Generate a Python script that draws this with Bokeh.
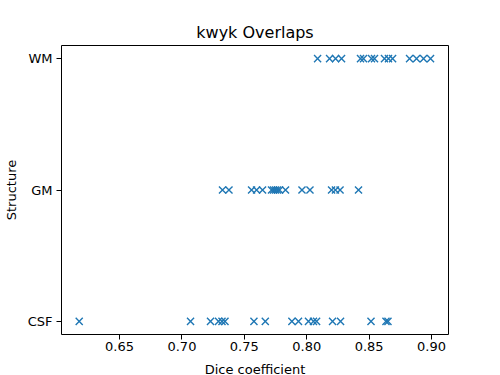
from bokeh.plotting import figure
from bokeh.models import Range1d, FixedTicker, ColumnDataSource
from bokeh.embed import file_html
from bokeh.resources import INLINE

structures = ["CSF", "GM", "WM"]
csf = [0.6177, 0.7069, 0.7229, 0.7293, 0.7321, 0.7345, 0.7577, 0.7668, 0.7881,
       0.7934, 0.8014, 0.8054, 0.8079, 0.8207, 0.8271, 0.8515, 0.8635, 0.8651]
gm = [0.7325, 0.7377, 0.7558, 0.7598, 0.7646, 0.7718, 0.7734, 0.7750, 0.7766,
      0.7782, 0.7830, 0.7962, 0.8026, 0.8199, 0.8230, 0.8267, 0.8415]
wm = [0.8087, 0.8183, 0.8231, 0.8279, 0.8431, 0.8455, 0.8519, 0.8543, 0.8623,
      0.8655, 0.8688, 0.8824, 0.8880, 0.8936, 0.8992]
x_ticks = [0.65, 0.70, 0.75, 0.80, 0.85, 0.90]

xs, ys = [], []
for i, vals in enumerate([csf, gm, wm]):
    xs += vals
    ys += [i] * len(vals)
src = ColumnDataSource(dict(x=xs, y=ys))

p = figure(frame_width=387, frame_height=289, output_backend="svg",
           toolbar_location=None,
           x_range=Range1d(0.6035, 0.9136), y_range=Range1d(-0.1, 2.1),
           min_border_left=55, min_border_right=30, min_border_top=45,
           min_border_bottom=10, title="kwyk Overlaps")
p.scatter("x", "y", source=src, marker="x", size=10, line_color="#1f77b4",
          line_width=1.4)

font = "DejaVu Sans"
p.title.align = "center"
p.title.text_font = font
p.title.text_font_size = "16px"
p.title.text_font_style = "normal"
p.title.text_color = "black"
p.title.standoff = 8

p.xgrid.visible = False
p.ygrid.visible = False
p.outline_line_color = "black"
p.outline_line_width = 1
p.background_fill_color = "white"
p.border_fill_color = "white"

p.xaxis.ticker = FixedTicker(ticks=x_ticks)
p.xaxis.major_label_overrides = {t: f"{t:.2f}" for t in x_ticks}
p.yaxis.ticker = FixedTicker(ticks=[0, 1, 2])
p.yaxis.major_label_overrides = {i: s for i, s in enumerate(structures)}
p.xaxis.axis_label = "Dice coefficient"
p.yaxis.axis_label = "Structure"

for ax in [p.xaxis[0], p.yaxis[0]]:
    ax.axis_line_color = None
    ax.major_tick_in = 0
    ax.major_tick_out = 5
    ax.minor_tick_out = 0
    ax.minor_tick_in = 0
    ax.major_tick_line_color = "black"
    ax.major_label_text_font = font
    ax.major_label_text_font_size = "13px"
    ax.major_label_text_color = "black"
    ax.axis_label_text_font = font
    ax.axis_label_text_font_size = "13px"
    ax.axis_label_text_font_style = "normal"
    ax.axis_label_text_color = "black"
    ax.axis_label_standoff = 6
    ax.major_label_standoff = 4
p.xaxis.major_label_standoff = 2
p.xaxis.axis_label_standoff = 8
p.yaxis.major_label_orientation = "horizontal"

open("out.html", "w").write(file_html(p, INLINE))
